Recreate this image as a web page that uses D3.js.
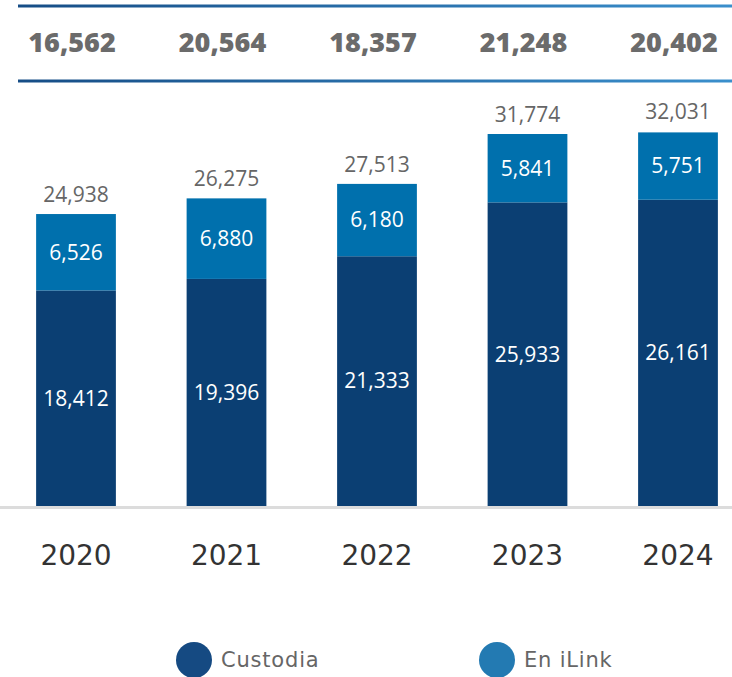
<!DOCTYPE html>
<html>
<head>
<meta charset="utf-8">
<script src="https://cdn.jsdelivr.net/npm/d3@7/dist/d3.min.js"></script>
<style>
  body { margin: 0; background: #fff; }
  svg { display: block; font-family: "Open Sans", "Noto Sans", sans-serif; }
</style>
</head>
<body>
<svg id="chart" width="732" height="677"></svg>
<script>
// data
const years = ["2020", "2021", "2022", "2023", "2024"];
const custodia = [18412, 19396, 21333, 25933, 26161];
const enIlink = [6526, 6880, 6180, 5841, 5751];
const totals = [24938, 26275, 27513, 31774, 32031];
const topNumbers = [16562, 20564, 18357, 21248, 20402];
const seriesNames = ["Custodia", "En iLink"];

const darkBlue = "#0b3f73";
const lightBlue = "#0070ad";
const fmt = d3.format(",");

const svg = d3.select("#chart");
const W = 732, H = 677;
const baseY = 506;

const x = d3.scaleBand()
  .domain(years)
  .range([0, 754])
  .paddingInner(0.47)
  .paddingOuter(0.24);

const y = d3.scaleLinear()
  .domain([0, 32031])
  .range([baseY, 131]);

// top band with gradient lines
const defs = svg.append("defs");
const grad = defs.append("linearGradient").attr("id", "lineGrad");
grad.append("stop").attr("offset", "0%").attr("stop-color", "#164d86");
grad.append("stop").attr("offset", "100%").attr("stop-color", "#3a8fcc");

[6, 81].forEach(ly => {
  svg.append("rect")
    .attr("x", 18).attr("y", ly - 1.5)
    .attr("width", W - 18).attr("height", 3)
    .attr("fill", "url(#lineGrad)");
});

svg.selectAll(".topnum")
  .data(topNumbers)
  .enter().append("text")
  .attr("class", "topnum")
  .attr("x", (d, i) => x(years[i]) + x.bandwidth() / 2 - 4)
  .attr("y", 52)
  .attr("text-anchor", "middle")
  .attr("font-size", 27)
  .attr("font-weight", 800)
  .attr("fill", "#6b6b6b")
  .text(d => fmt(d));

// stacked bars
const rows = years.map((yr, i) => ({ year: yr, custodia: custodia[i], enIlink: enIlink[i], total: totals[i] }));
const stack = d3.stack().keys(["custodia", "enIlink"])(rows);
const colors = [darkBlue, lightBlue];

stack.forEach((layer, li) => {
  const g = svg.append("g");
  g.selectAll("rect")
    .data(layer)
    .enter().append("rect")
    .attr("x", d => x(d.data.year))
    .attr("y", d => y(d[1]))
    .attr("width", x.bandwidth())
    .attr("height", d => y(d[0]) - y(d[1]))
    .attr("fill", colors[li]);
  g.selectAll("text")
    .data(layer)
    .enter().append("text")
    .attr("x", d => x(d.data.year) + x.bandwidth() / 2)
    .attr("y", d => (y(d[0]) + y(d[1])) / 2)
    .attr("dy", "0.35em")
    .attr("text-anchor", "middle")
    .attr("font-size", 21)
    .attr("fill", "#fff")
    .text(d => fmt(d[1] - d[0]));
});

// totals above bars
svg.selectAll(".total")
  .data(rows)
  .enter().append("text")
  .attr("class", "total")
  .attr("x", d => x(d.year) + x.bandwidth() / 2)
  .attr("y", d => y(d.total) - 12)
  .attr("text-anchor", "middle")
  .attr("font-size", 21)
  .attr("fill", "#666")
  .text(d => fmt(d.total));

// baseline
svg.append("rect")
  .attr("x", 0).attr("y", baseY)
  .attr("width", W).attr("height", 3)
  .attr("fill", "#dcdcdc");

// year axis labels
const xAxis = svg.append("g")
  .attr("transform", `translate(0,${baseY})`)
  .call(d3.axisBottom(x).tickSize(0).tickPadding(39));
xAxis.select(".domain").remove();
xAxis.selectAll("text")
  .attr("font-family", "'DejaVu Sans', sans-serif")
  .attr("font-size", 28)
  .attr("fill", "#333");

// legend
const legendX = [194, 497];
const legendColors = ["#154a82", "#237ab2"];
const legend = svg.selectAll(".legend")
  .data(seriesNames)
  .enter().append("g")
  .attr("class", "legend")
  .attr("transform", (d, i) => `translate(${legendX[i]},660)`);
legend.append("circle").attr("r", 18).attr("fill", (d, i) => legendColors[i]);
legend.append("text")
  .attr("x", 27)
  .attr("dy", "0.35em")
  .attr("font-family", "'DejaVu Sans', sans-serif")
  .attr("font-size", 21)
  .attr("letter-spacing", 0.8)
  .attr("fill", "#666")
  .text(d => d);
</script>
</body>
</html>
